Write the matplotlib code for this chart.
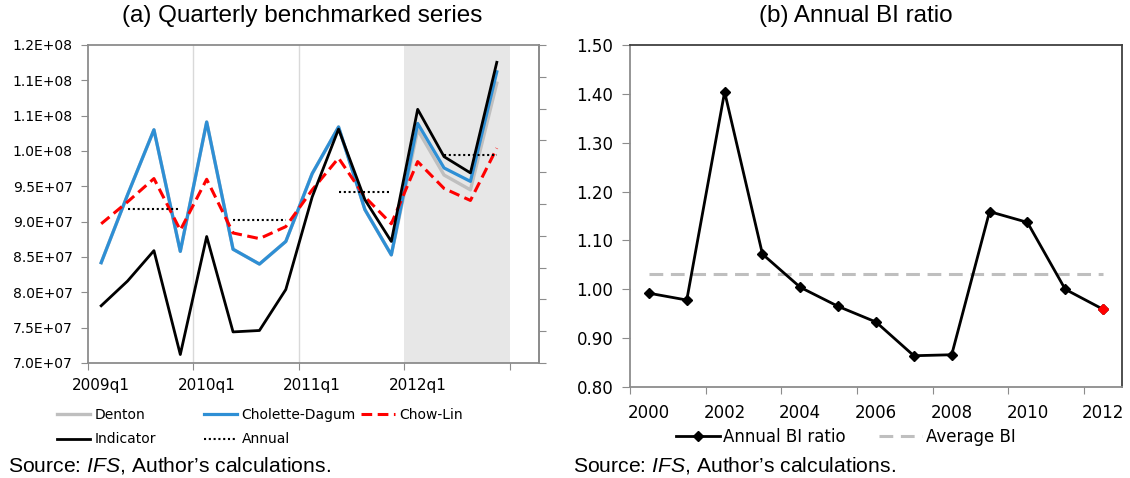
import numpy as np
import matplotlib
matplotlib.use('Agg')
import matplotlib.pyplot as plt

plt.rcParams['font.family'] = ['DejaVu Sans']
plt.rcParams['mathtext.fontset'] = 'custom'
plt.rcParams['mathtext.rm'] = 'Liberation Sans'
plt.rcParams['mathtext.it'] = 'Liberation Sans:italic'

# ---- panel (a) data ----
quarters = ['2009q1', '2009q2', '2009q3', '2009q4',
            '2010q1', '2010q2', '2010q3', '2010q4',
            '2011q1', '2011q2', '2011q3', '2011q4',
            '2012q1', '2012q2', '2012q3', '2012q4']
denton = [8.42e7, 9.38e7, 1.030e8, 8.58e7, 1.041e8, 8.61e7, 8.40e7, 8.72e7,
          9.68e7, 1.034e8, 9.17e7, 8.53e7, 1.030e8, 9.66e7, 9.45e7, 1.096e8]
cholette = [8.42e7, 9.38e7, 1.030e8, 8.58e7, 1.041e8, 8.61e7, 8.40e7, 8.72e7,
            9.68e7, 1.034e8, 9.17e7, 8.53e7, 1.039e8, 9.76e7, 9.57e7, 1.112e8]
chowlin = [8.97e7, 9.28e7, 9.61e7, 8.88e7, 9.60e7, 8.84e7, 8.76e7, 8.93e7,
           9.45e7, 9.90e7, 9.35e7, 8.97e7, 9.85e7, 9.47e7, 9.30e7, 1.004e8]
indicator = [7.81e7, 8.16e7, 8.59e7, 7.12e7, 8.79e7, 7.44e7, 7.46e7, 8.04e7,
             9.35e7, 1.031e8, 9.31e7, 8.72e7, 1.059e8, 9.92e7, 9.69e7, 1.1255e8]
annual = [9.18e7, 9.03e7, 9.42e7, 9.95e7]   # one value per year, shown over q2-q4
ytick_vals = [7.0e7, 7.5e7, 8.0e7, 8.5e7, 9.0e7, 9.5e7, 1.0e8, 1.05e8, 1.1e8, 1.15e8]
ytick_labels = ['7.0E+07', '7.5E+07', '8.0E+07', '8.5E+07', '9.0E+07',
                '9.5E+07', '1.0E+08', '1.1E+08', '1.1E+08', '1.2E+08']

# ---- panel (b) data ----
years = ['2000', '2001', '2002', '2003', '2004', '2005', '2006',
         '2007', '2008', '2009', '2010', '2011', '2012']
bi_ratio = [0.992, 0.978, 1.404, 1.072, 1.004, 0.965, 0.933,
            0.864, 0.866, 1.159, 1.137, 1.000, 0.959]
average_bi = 1.031

GRAY = '#8C8C8C'

fig = plt.figure(figsize=(11.3, 4.78), dpi=100)
W, H = 1130.0, 478.0

# ================= (a) =================
ax1 = fig.add_axes([88 / W, 1 - 363 / H, (539 - 88) / W, (363 - 45) / H])
x = np.arange(len(quarters))

annual_q = []
for v in annual:
    annual_q += [np.nan, v, v, v]

ax1.axvspan(11.5, 15.5, color='#E7E7E7', zorder=0, lw=0)
for g in [3.5, 7.5]:
    ax1.axvline(g, color='#D9D9D9', lw=1, zorder=0.5)

l_den, = ax1.plot(x, denton, color='#BFBFBF', lw=2.4, label='Denton', zorder=2)
l_cho, = ax1.plot(x, cholette, color='#2E8FD5', lw=2.3, label='Cholette-Dagum', zorder=3)
l_cl, = ax1.plot(x, chowlin, color='red', lw=2.2, ls=(0, (3.5, 1.8)), label='Chow-Lin', zorder=4)
l_ind, = ax1.plot(x, indicator, color='black', lw=2.0, label='Indicator', zorder=5)
l_ann, = ax1.plot(x, annual_q, color='black', lw=1.5, ls=(0, (1, 1.3)), label='Annual', zorder=6)

ax1.set_xlim(-0.5, 16.6)
ax1.set_ylim(7e7, 1.15e8)
ax1.set_yticks(ytick_vals)
ax1.set_yticklabels(ytick_labels)
ax1.set_xticks([-0.5, 3.5, 7.5, 11.5, 15.5])
ax1.set_xticklabels([])
ax1.set_xticks(x[::4], minor=True)
ax1.set_xticklabels(quarters[::4], minor=True)
ax1.tick_params(axis='y', direction='out', length=5, color=GRAY, labelsize=10, pad=6)
ax1.tick_params(axis='x', which='major', direction='out', length=5, color=GRAY)
ax1.tick_params(axis='x', which='minor', length=0, labelsize=11, pad=11)
for s in ax1.spines.values():
    s.set_color(GRAY)
    s.set_linewidth(1.3)

ax1b = ax1.twinx()
ax1b.set_ylim(0, 10)
ax1b.set_yticks(range(11))
ax1b.set_yticklabels([])
ax1b.tick_params(axis='y', direction='out', length=5, color=GRAY)
for k, s in ax1b.spines.items():
    s.set_visible(k == 'right')
    s.set_color(GRAY)
    s.set_linewidth(1.3)

leg_kw = dict(loc='upper left', frameon=False, fontsize=10, handlelength=2.4,
              handletextpad=0.3, labelspacing=0.75, borderpad=0, borderaxespad=0)
fig.legend([l_den, l_ind], ['Denton', 'Indicator'],
           bbox_to_anchor=(57 / W, 1 - 408 / H), **leg_kw)
fig.legend([l_cho, l_ann, l_cl], ['Cholette-Dagum', 'Annual', 'Chow-Lin'], ncol=2,
           columnspacing=0.4, bbox_to_anchor=(204 / W, 1 - 408 / H), **leg_kw)

fig.text(302 / W, 1 - 16 / H, '(a) Quarterly benchmarked series', ha='center', va='center',
         fontsize=17.5, family='Liberation Sans')
fig.text(8 / W, 1 - 466 / H, 'Source: $\\mathit{IFS}$, Author\u2019s calculations.',
         ha='left', va='center', fontsize=15.2, family='Liberation Sans')

# ================= (b) =================
ax2 = fig.add_axes([630 / W, 1 - 387 / H, (1122 - 630) / W, (387 - 45) / H])
xr = np.arange(len(years))

l_bi, = ax2.plot(xr, bi_ratio, color='black', lw=2, marker='D', ms=5, label='Annual BI ratio', zorder=3)
ax2.plot(xr[-1:], bi_ratio[-1:], 'D', color='red', ms=5, zorder=4)
l_avg, = ax2.plot(xr, [average_bi] * len(xr), color='#BFBFBF', lw=2.2, ls=(0, (4.5, 2.5)),
                  label='Average BI', zorder=2)

ax2.set_xlim(-0.5, 12.5)
ax2.set_ylim(0.8, 1.5)
yt = np.arange(0.8, 1.501, 0.1)
ax2.set_yticks(yt)
ax2.set_yticklabels(['%.2f' % v for v in yt])
ax2.set_xticks(np.arange(-0.5, 12, 2))
ax2.set_xticklabels([])
ax2.set_xticks(xr[::2], minor=True)
ax2.set_xticklabels(years[::2], minor=True)
ax2.tick_params(axis='y', direction='out', length=6, color=GRAY, labelsize=12, pad=6)
ax2.tick_params(axis='x', which='major', direction='out', length=5, color=GRAY)
ax2.tick_params(axis='x', which='minor', length=0, labelsize=12, pad=12)
for k, s in ax2.spines.items():
    s.set_linewidth(1.3)
    s.set_color(GRAY if k in ('left', 'bottom') else '#404040')

fig.legend([l_bi, l_avg], ['Annual BI ratio', 'Average BI'], ncol=2, loc='center',
           bbox_to_anchor=(846 / W, 1 - 437 / H), frameon=False, fontsize=12,
           handlelength=2.6, handletextpad=0.2, columnspacing=2.0,
           borderpad=0, borderaxespad=0)

fig.text(856 / W, 1 - 16 / H, '(b) Annual BI ratio', ha='center', va='center',
         fontsize=17.5, family='Liberation Sans')
fig.text(573 / W, 1 - 466 / H, 'Source: $\\mathit{IFS}$, Author\u2019s calculations.',
         ha='left', va='center', fontsize=15.2, family='Liberation Sans')

fig.savefig('out.png', dpi=100)
